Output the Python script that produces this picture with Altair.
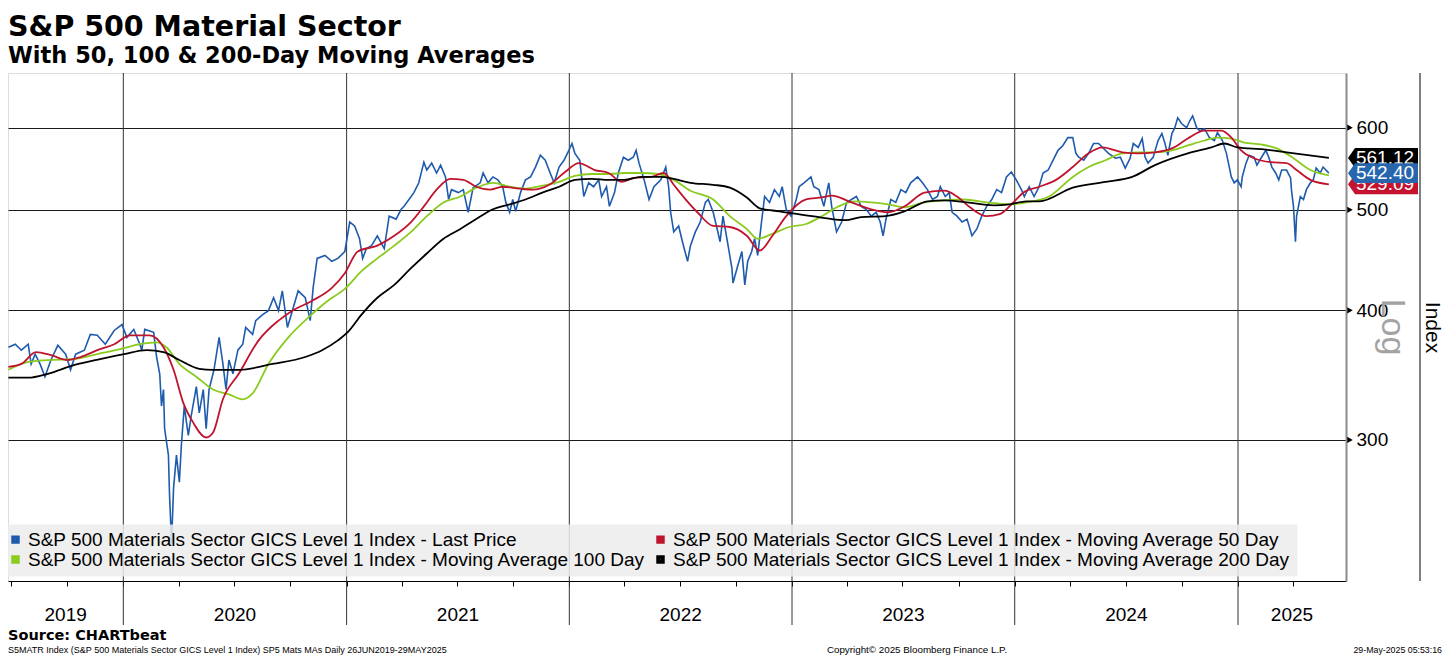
import altair as alt
import pandas as pd
import numpy as np

# ---------------- data (dates as decimal years, values = index level) ----------------
price_dates = [
    2019.484, 2019.515, 2019.542, 2019.573, 2019.586, 2019.604, 2019.626, 2019.648, 2019.675, 2019.706,
    2019.741, 2019.763, 2019.786, 2019.825, 2019.852, 2019.883, 2019.919, 2019.959, 2019.994, 2020.016,
    2020.047, 2020.074, 2020.083, 2020.096, 2020.136, 2020.149, 2020.163, 2020.171, 2020.180, 2020.185,
    2020.202, 2020.207, 2020.216, 2020.225, 2020.238, 2020.251, 2020.260, 2020.273, 2020.291, 2020.304,
    2020.327, 2020.340, 2020.358, 2020.371, 2020.384, 2020.406, 2020.429, 2020.446, 2020.460, 2020.473,
    2020.491, 2020.513, 2020.535, 2020.548, 2020.579, 2020.593, 2020.624, 2020.650, 2020.673, 2020.695,
    2020.712, 2020.735, 2020.757, 2020.783, 2020.815, 2020.837, 2020.850, 2020.868, 2020.903, 2020.934,
    2020.961, 2020.992, 2021.014, 2021.036, 2021.058, 2021.072, 2021.089, 2021.112, 2021.138, 2021.169,
    2021.191, 2021.222, 2021.245, 2021.258, 2021.280, 2021.302, 2021.324, 2021.347, 2021.360, 2021.382,
    2021.404, 2021.422, 2021.444, 2021.458, 2021.471, 2021.502, 2021.524, 2021.546, 2021.568, 2021.600,
    2021.613, 2021.635, 2021.657, 2021.679, 2021.701, 2021.715, 2021.732, 2021.746, 2021.759, 2021.781,
    2021.803, 2021.826, 2021.848, 2021.870, 2021.892, 2021.914, 2021.932, 2021.954, 2021.976, 2021.998,
    2022.012, 2022.025, 2022.047, 2022.065, 2022.087, 2022.109, 2022.132, 2022.145, 2022.167, 2022.180,
    2022.203, 2022.220, 2022.243, 2022.265, 2022.287, 2022.300, 2022.313, 2022.336, 2022.358, 2022.380,
    2022.411, 2022.433, 2022.446, 2022.455, 2022.469, 2022.491, 2022.508, 2022.531, 2022.544, 2022.566,
    2022.588, 2022.611, 2022.624, 2022.646, 2022.664, 2022.677, 2022.690, 2022.713, 2022.730, 2022.735,
    2022.757, 2022.775, 2022.788, 2022.801, 2022.819, 2022.832, 2022.846, 2022.863, 2022.877, 2022.899,
    2022.921, 2022.943, 2022.956, 2022.974, 2022.996, 2023.019, 2023.032, 2023.054, 2023.085, 2023.098,
    2023.121, 2023.143, 2023.165, 2023.178, 2023.200, 2023.223, 2023.245, 2023.267, 2023.289, 2023.311,
    2023.333, 2023.356, 2023.378, 2023.396, 2023.409, 2023.422, 2023.444, 2023.466, 2023.489, 2023.511,
    2023.533, 2023.564, 2023.586, 2023.608, 2023.631, 2023.653, 2023.666, 2023.688, 2023.706, 2023.719,
    2023.741, 2023.764, 2023.786, 2023.808, 2023.830, 2023.852, 2023.874, 2023.897, 2023.919, 2023.941,
    2023.963, 2023.985, 2024.007, 2024.030, 2024.043, 2024.065, 2024.087, 2024.109, 2024.127, 2024.150,
    2024.172, 2024.194, 2024.216, 2024.238, 2024.260, 2024.274, 2024.287, 2024.309, 2024.331, 2024.353,
    2024.376, 2024.398, 2024.420, 2024.451, 2024.473, 2024.495, 2024.517, 2024.531, 2024.553, 2024.571,
    2024.584, 2024.597, 2024.620, 2024.642, 2024.659, 2024.673, 2024.686, 2024.704, 2024.717, 2024.730,
    2024.748, 2024.770, 2024.784, 2024.797, 2024.815, 2024.828, 2024.850, 2024.872, 2024.894, 2024.908,
    2024.930, 2024.948, 2024.961, 2024.970, 2024.983, 2024.997, 2025.014, 2025.019, 2025.036, 2025.050,
    2025.072, 2025.085, 2025.103, 2025.125, 2025.138, 2025.152, 2025.169, 2025.183, 2025.196, 2025.218,
    2025.236, 2025.240, 2025.249, 2025.258, 2025.263, 2025.280, 2025.294, 2025.307, 2025.325, 2025.338,
    2025.351, 2025.369, 2025.382, 2025.408,
]
price_values = [
    368.5, 371.0, 366.1, 371.0, 355.1, 362.9, 355.1, 345.2, 358.2, 370.1,
    362.9, 350.5, 362.9, 366.1, 379.2, 378.4, 371.0, 382.5, 387.6, 376.7,
    383.4, 371.0, 366.1, 383.4, 380.9, 360.6, 347.4, 323.4, 335.5, 307.6,
    290.0, 265.4, 238.4, 269.5, 290.0, 273.1, 296.5, 323.4, 303.0, 316.5,
    337.7, 318.5, 335.5, 307.6, 335.5, 350.5, 376.7, 355.1, 335.5, 358.2,
    347.4, 366.1, 371.0, 385.1, 379.2, 391.0, 396.2, 399.7, 411.3, 399.7,
    417.7, 385.1, 399.7, 417.7, 411.3, 391.0, 420.4, 448.9, 451.8, 446.0,
    448.9, 455.8, 486.6, 482.4, 468.9, 448.9, 458.8, 461.8, 472.0, 458.8,
    493.0, 489.8, 500.6, 503.9, 511.6, 519.5, 530.9, 555.8, 546.2, 554.6,
    542.6, 552.2, 537.9, 511.6, 522.9, 519.5, 522.9, 497.3, 525.2, 530.9,
    542.6, 530.9, 537.9, 534.4, 526.3, 508.3, 497.3, 511.6, 498.4, 519.5,
    534.4, 537.9, 549.8, 564.4, 558.2, 542.6, 530.9, 549.8, 558.2, 570.6,
    579.3, 566.8, 558.2, 515.0, 530.9, 526.3, 534.4, 515.0, 526.3, 503.9,
    519.5, 542.6, 561.9, 558.2, 561.9, 570.6, 554.6, 534.4, 511.6, 526.3,
    534.4, 549.8, 526.3, 497.3, 476.1, 482.4, 465.8, 446.0, 461.8, 476.1,
    486.6, 508.3, 511.6, 497.3, 479.2, 465.8, 493.0, 461.8, 439.2, 425.0,
    442.1, 455.8, 423.2, 446.0, 455.8, 468.9, 451.8, 486.6, 515.0, 508.3,
    522.9, 515.0, 526.3, 500.6, 493.0, 511.6, 526.3, 530.9, 537.9, 526.3,
    522.9, 503.9, 530.9, 503.9, 476.1, 486.6, 508.3, 511.6, 515.0, 503.9,
    500.6, 493.0, 497.3, 486.6, 472.0, 489.8, 511.6, 508.3, 522.9, 519.5,
    530.9, 537.9, 530.9, 522.9, 511.6, 515.0, 526.3, 515.0, 519.5, 497.3,
    493.0, 486.6, 489.8, 472.0, 479.2, 493.0, 503.9, 511.6, 522.9, 519.5,
    537.9, 543.8, 534.4, 522.9, 515.0, 526.3, 515.0, 526.3, 542.6, 546.2,
    558.2, 570.6, 576.8, 587.0, 587.0, 566.8, 561.9, 558.2, 566.8, 579.3,
    579.3, 573.0, 566.8, 560.7, 561.9, 548.6, 560.7, 579.3, 574.3, 585.7,
    561.9, 554.6, 561.9, 583.2, 592.2, 579.3, 564.4, 592.2, 600.0, 613.3,
    605.3, 600.0, 609.3, 616.0, 600.0, 596.1, 598.7, 587.0, 583.2, 593.5,
    583.2, 566.8, 549.8, 537.9, 530.9, 534.4, 526.3, 537.9, 554.6, 564.4,
    561.9, 552.2, 560.7, 570.6, 561.9, 549.8, 542.6, 534.4, 546.2, 546.2,
    536.7, 522.9, 503.9, 465.8, 493.0, 515.0, 511.6, 522.9, 530.9, 534.4,
    548.6, 542.6, 549.8, 542.40,
]

ma50_dates = [
    2019.484, 2019.542, 2019.608, 2019.675, 2019.750, 2019.808, 2019.883, 2019.959, 2020.030, 2020.118,
    2020.180, 2020.225, 2020.269, 2020.313, 2020.371, 2020.402, 2020.446, 2020.517, 2020.606, 2020.695,
    2020.757, 2020.846, 2020.934, 2020.992, 2021.050, 2021.138, 2021.214, 2021.289, 2021.347, 2021.404,
    2021.466, 2021.524, 2021.582, 2021.644, 2021.701, 2021.777, 2021.835, 2021.910, 2021.981, 2022.043,
    2022.114, 2022.176, 2022.234, 2022.291, 2022.367, 2022.424, 2022.469, 2022.508, 2022.575, 2022.646,
    2022.721, 2022.797, 2022.855, 2022.912, 2022.974, 2023.063, 2023.134, 2023.178, 2023.267, 2023.356,
    2023.431, 2023.506, 2023.595, 2023.684, 2023.741, 2023.799, 2023.874, 2023.932, 2023.994, 2024.039,
    2024.110, 2024.185, 2024.260, 2024.331, 2024.393, 2024.482, 2024.553, 2024.628, 2024.704, 2024.775,
    2024.850, 2024.926, 2024.970, 2025.014, 2025.072, 2025.147, 2025.218, 2025.263, 2025.325, 2025.408,
]
ma50_values = [
    352.8, 355.1, 364.5, 362.1, 358.2, 360.6, 366.1, 371.0, 378.4, 378.4,
    368.5, 350.5, 325.5, 311.7, 301.6, 305.0, 328.3, 347.4, 374.2, 391.0,
    399.7, 408.6, 420.4, 434.4, 455.8, 461.8, 472.0, 486.6, 503.9, 522.9,
    535.6, 534.4, 526.3, 522.9, 526.3, 524.0, 522.9, 528.6, 543.8, 554.6,
    546.2, 542.6, 532.1, 536.7, 537.9, 542.6, 528.6, 516.1, 497.3, 482.4,
    481.3, 472.0, 456.8, 472.0, 493.0, 511.6, 513.9, 516.1, 508.3, 500.6,
    497.3, 503.9, 519.5, 521.7, 515.0, 502.8, 493.0, 495.2, 508.3, 519.5,
    526.3, 534.4, 549.8, 566.8, 574.3, 568.1, 566.8, 568.1, 573.0, 585.7,
    596.1, 596.1, 587.0, 570.6, 560.7, 555.8, 554.6, 546.2, 534.4, 529.09,
]

ma100_dates = [
    2019.484, 2019.573, 2019.661, 2019.781, 2019.883, 2019.985, 2020.074, 2020.149, 2020.193, 2020.251,
    2020.327, 2020.402, 2020.473, 2020.535, 2020.579, 2020.650, 2020.739, 2020.828, 2020.916, 2020.992,
    2021.067, 2021.138, 2021.214, 2021.289, 2021.360, 2021.435, 2021.511, 2021.582, 2021.657, 2021.732,
    2021.803, 2021.879, 2021.954, 2022.025, 2022.101, 2022.176, 2022.247, 2022.322, 2022.398, 2022.469,
    2022.544, 2022.646, 2022.721, 2022.797, 2022.846, 2022.912, 2022.988, 2023.063, 2023.134, 2023.209,
    2023.285, 2023.356, 2023.431, 2023.506, 2023.595, 2023.684, 2023.773, 2023.874, 2023.977, 2024.052,
    2024.154, 2024.260, 2024.331, 2024.407, 2024.482, 2024.553, 2024.628, 2024.704, 2024.775, 2024.850,
    2024.908, 2024.970, 2025.028, 2025.103, 2025.174, 2025.249, 2025.325, 2025.408,
]
ma100_values = [
    350.5, 356.7, 358.2, 359.0, 362.9, 366.9, 371.0, 372.6, 368.5, 355.1,
    345.2, 335.5, 331.9, 328.3, 332.6, 355.1, 376.7, 393.6, 408.6, 419.5,
    436.3, 448.9, 461.8, 476.1, 493.0, 508.3, 515.0, 525.2, 530.9, 526.3,
    524.0, 527.5, 532.1, 539.1, 541.4, 541.4, 542.6, 542.6, 541.4, 534.4,
    521.7, 511.6, 493.0, 479.2, 468.9, 474.0, 481.3, 484.5, 493.0, 503.9,
    509.4, 508.3, 506.1, 502.8, 508.3, 510.5, 511.6, 508.3, 506.1, 508.3,
    515.0, 537.9, 549.8, 558.2, 566.8, 568.1, 568.1, 570.6, 576.8, 583.2,
    587.0, 585.7, 580.6, 578.1, 573.0, 560.7, 546.2, 539.8,
]

ma200_dates = [
    2019.484, 2019.573, 2019.661, 2019.781, 2019.896, 2020.003, 2020.105, 2020.180, 2020.251, 2020.340,
    2020.402, 2020.517, 2020.668, 2020.815, 2020.890, 2020.961, 2021.005, 2021.067, 2021.138, 2021.214,
    2021.289, 2021.360, 2021.435, 2021.511, 2021.582, 2021.657, 2021.732, 2021.803, 2021.879, 2021.954,
    2022.025, 2022.101, 2022.176, 2022.247, 2022.322, 2022.411, 2022.469, 2022.544, 2022.646, 2022.721,
    2022.797, 2022.855, 2022.943, 2023.090, 2023.240, 2023.311, 2023.418, 2023.506, 2023.608, 2023.684,
    2023.786, 2023.906, 2023.977, 2024.052, 2024.110, 2024.260, 2024.407, 2024.526, 2024.628, 2024.775,
    2024.881, 2024.939, 2024.997, 2025.116, 2025.218, 2025.408,
]
ma200_values = [
    344.4, 344.4, 347.4, 354.3, 359.0, 362.9, 366.1, 364.5, 358.2, 351.3,
    350.5, 350.5, 355.1, 360.6, 366.1, 374.2, 381.0, 396.2, 411.3, 423.2,
    439.2, 453.8, 468.9, 479.2, 489.8, 500.6, 506.1, 511.6, 519.5, 526.3,
    534.4, 535.6, 534.4, 534.4, 537.9, 537.9, 535.6, 530.9, 528.6, 525.2,
    513.9, 501.7, 498.4, 493.0, 488.7, 492.0, 493.0, 498.4, 509.4, 510.5,
    508.3, 505.0, 506.1, 509.4, 509.4, 525.2, 532.1, 537.9, 552.2, 566.8,
    574.3, 579.3, 574.3, 571.8, 568.1, 561.12,
]

series_names = [
    "S&P 500 Materials Sector GICS Level 1 Index - Last Price",
    "S&P 500 Materials Sector GICS Level 1 Index - Moving Average 50 Day",
    "S&P 500 Materials Sector GICS Level 1 Index - Moving Average 100 Day",
    "S&P 500 Materials Sector GICS Level 1 Index - Moving Average 200 Day",
]
series_colors = ["#1f5bac", "#c0142e", "#8acb1e", "#000000"]

# last-value tags on the right axis (draw order: 200d, 50d, last price on top)
tag_values = [561.12, 529.09, 542.40]
tag_colors = ["#000000", "#c4132f", "#2766ad"]

y_tick_values = [300, 400, 500, 600]
year_labels = ["2019", "2020", "2021", "2022", "2023", "2024", "2025"]
x_start = pd.Timestamp("2019-06-26")
x_end = pd.Timestamp("2025-06-27")

title_text = "S&P 500 Material Sector"
subtitle_text = "With 50, 100 & 200-Day Moving Averages"
source_text = "Source: CHARTbeat"
footnote_text = "S5MATR Index (S&P 500 Materials Sector GICS Level 1 Index) SP5 Mats MAs  Daily 26JUN2019-29MAY2025"
copyright_text = "Copyright\u00a9 2025 Bloomberg Finance L.P."
stamp_text = "29-May-2025 05:53:16"


def dec_to_ts(t):
    y = int(np.floor(t))
    a = pd.Timestamp(year=y, month=1, day=1)
    b = pd.Timestamp(year=y + 1, month=1, day=1)
    return a + (b - a) * (t - y)


def series_df(dates, values, name):
    return pd.DataFrame({"date": [dec_to_ts(t) for t in dates], "value": values, "series": name})


df_price = series_df(price_dates, price_values, series_names[0])
df_50 = series_df(ma50_dates, ma50_values, series_names[1])
df_100 = series_df(ma100_dates, ma100_values, series_names[2])
df_200 = series_df(ma200_dates, ma200_values, series_names[3])

# ---------------- layout ----------------
W, H = 1338, 508
TOP, RIGHT, BOTTOM = 65, 100, 74
FONT = "Liberation Sans"
BOLD = "DejaVu Sans"

def dt(ts):
    return alt.DateTime(year=ts.year, month=ts.month, date=ts.day)

x_scale = alt.Scale(domain=[dt(x_start), dt(x_end)])
y_scale = alt.Scale(type="log", domain=[219.3, 677.5], nice=False)

quarters = [pd.Timestamp(year=y, month=m, day=1) for y in range(2019, 2026) for m in (1, 4, 7, 10)]
quarters = [q for q in quarters if x_start <= q <= x_end]

x_axis = alt.Axis(values=[dt(q) for q in quarters], labels=False, grid=False, domainColor="black",
                  domainWidth=1, tickColor="black", tickSize=5, title=None)
y_axis = alt.Axis(orient="right", values=y_tick_values, grid=True, gridColor="#1a1a1a", gridWidth=1,
                  gridOpacity=1, domainColor="#8c8c8c", domainWidth=2, ticks=False, labelPadding=10,
                  labelFont=FONT, labelFontSize=19, labelColor="black", labelAlign="left",
                  labelBaseline="middle", format="d", title="Index", titleAngle=90, titleX=85,
                  titleY=H / 2, titleAlign="center", titleBaseline="middle", titleFont=FONT,
                  titleFontSize=21, titleFontWeight="normal", titleColor="black")

def xenc(field):
    return alt.X(f"{field}:T", scale=x_scale, axis=x_axis)

def yenc(field):
    return alt.Y(f"{field}:Q", scale=y_scale, axis=y_axis)

# legend is laid out column by column: list the entries so rows read
# Last Price | MA 50  /  MA 100 | MA 200
legend_order = [series_names[0], series_names[2], series_names[1], series_names[3]]
legend_colors = [series_colors[0], series_colors[2], series_colors[1], series_colors[3]]
color_scale = alt.Scale(domain=legend_order, range=legend_colors)
legend = alt.Legend(orient="none", legendX=-8, legendY=H - 57, columns=2, title=None,
                    symbolType="square", symbolSize=20, symbolStrokeWidth=4, symbolOpacity=1,
                    labelFont=FONT, labelFontSize=19, labelColor="black", labelLimit=1000,
                    labelOffset=3, columnPadding=4, rowPadding=-2, padding=6,
                    fillColor="rgba(236,236,236,0.85)", strokeColor="rgba(0,0,0,0)")

def line_layer(df, width, interp):
    return alt.Chart(df).mark_line(strokeWidth=width, interpolate=interp).encode(
        x=xenc("date"), y=yenc("value"),
        color=alt.Color("series:N", scale=color_scale, legend=legend),
    )

# year separators (extend below the plot through the label band)
years_df = pd.DataFrame({"date": [pd.Timestamp(year=y, month=1, day=1) for y in range(2020, 2026)]})
year_rules = alt.Chart(years_df).mark_rule(color="#333333", strokeWidth=1).encode(
    x=xenc("date"), y=alt.value(0), y2=alt.value(H + 44))

# year label positions: middle of the visible part of each year
bounds = [x_start] + list(years_df["date"]) + [x_end]
mids = [bounds[i] + (bounds[i + 1] - bounds[i]) / 2 for i in range(len(bounds) - 1)]
year_lbl_df = pd.DataFrame({"date": mids, "label": year_labels})
year_text = alt.Chart(year_lbl_df).mark_text(font=FONT, fontSize=19, color="black",
                                             baseline="middle", align="center").encode(
    x=xenc("date"), y=alt.value(H + 34), text="label:N")

# arrow heads at the right end of the gridlines
ticks_df = pd.DataFrame({"value": y_tick_values})
arrows = alt.Chart(ticks_df).mark_point(shape="triangle-right", filled=True, size=40,
                                        color="black", opacity=1).encode(
    x=alt.value(W + 4), y=yenc("value"))

# value tags
tag_shape = "M -1 0 L -0.8 -0.28 L 1 -0.28 L 1 0.28 L -0.8 0.28 Z"
tag_layers = []
for v, c in zip(tag_values, tag_colors):
    d = pd.DataFrame({"value": [v], "label": [f"{v:.2f}"]})
    tag_layers.append(alt.Chart(d).mark_point(shape=tag_shape, filled=True, size=4900, color=c,
                                              opacity=1, strokeWidth=0).encode(
        x=alt.value(W + 37), y=yenc("value")))
    tag_layers.append(alt.Chart(d).mark_text(font=FONT, fontSize=19, color="white", align="center",
                                             baseline="middle", dx=2).encode(
        x=alt.value(W + 37), y=yenc("value"), text="label:N"))

# right border line beside the tags
right_line = alt.Chart(pd.DataFrame({"k": [0]})).mark_rule(color="black", strokeWidth=1).encode(
    x=alt.value(W + 74), y=alt.value(0), y2=alt.value(H))

log_text = alt.Chart(pd.DataFrame({"label": ["Log"]})).mark_text(
    font=FONT, fontSize=34, color="#a3a3a3", angle=90, align="center", baseline="middle").encode(
    x=alt.value(W + 46), y=alt.value(H / 2), text="label:N")

def footer(text, x, y, font, size, weight="normal", align="left"):
    return alt.Chart(pd.DataFrame({"label": [text]})).mark_text(
        font=font, fontSize=size, fontWeight=weight, color="black", align=align, baseline="middle").encode(
        x=alt.value(x), y=alt.value(y), text="label:N")

foot = [
    footer(source_text, 0, H + 55, BOLD, 14.5, "bold"),
    footer(footnote_text, 0, H + 69, FONT, 9),
    footer(copyright_text, 909, H + 69, FONT, 9.8, align="center"),
    footer(stamp_text, W + 96, H + 69, FONT, 8.8, align="right"),
]

chart = alt.layer(
    year_rules,
    line_layer(df_price, 1.6, "linear"),
    line_layer(df_100, 1.8, "monotone"),
    line_layer(df_50, 1.8, "monotone"),
    line_layer(df_200, 1.8, "monotone"),
    arrows,
    *tag_layers,
    right_line,
    log_text,
    year_text,
    *foot,
).properties(
    width=W, height=H,
    title=alt.TitleParams(text=title_text, subtitle=subtitle_text, anchor="start", frame="group",
                          font=BOLD, fontSize=28.5, fontWeight="bold", color="black",
                          subtitleFont=BOLD, subtitleFontSize=22.5, subtitleFontWeight="bold",
                          subtitleColor="black", subtitlePadding=4, offset=5),
    autosize=alt.AutoSizeParams(type="none"),
    padding={"left": 0, "top": TOP, "right": RIGHT, "bottom": BOTTOM},
).configure_view(stroke=None).configure(background="white")

chart.save("out.html", embed_options={"renderer": "svg", "actions": False})
